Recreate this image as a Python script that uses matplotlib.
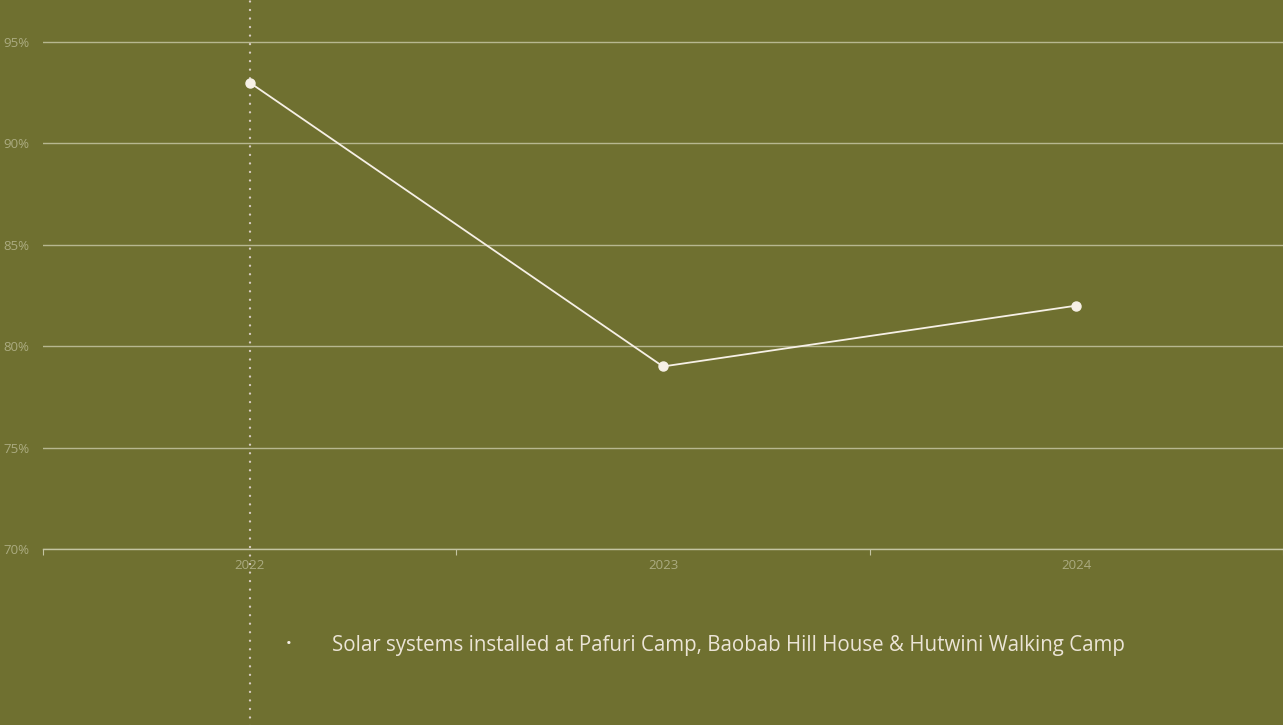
import matplotlib
matplotlib.use("Agg")
import matplotlib.pyplot as plt
from matplotlib.ticker import FixedLocator, NullFormatter

years = ["2022", "2023", "2024"]
share = [93, 79, 82]
y_ticks = [70, 75, 80, 85, 90, 95]
note = "Solar systems installed at Pafuri Camp, Baobab Hill House & Hutwini Walking Camp"

bg = "#6f7030"
cream = "#f6f0e6"
grid_col = "#c4c4a2"
label_col = "#abab80"

plt.rcParams["font.family"] = ["Open Sans", "DejaVu Sans"]

fig = plt.figure(figsize=(12.83, 7.25), dpi=100, facecolor=bg)
ax = fig.add_axes([43 / 1283, 176 / 725, 1 - 43 / 1283, 549 / 725])
ax.set_facecolor(bg)

x = list(range(len(years)))
ax.plot(x, share, color=cream, lw=1.3, marker="o", ms=6.5,
        markerfacecolor=cream, markeredgecolor=cream, zorder=4)

ax.set_xlim(-0.5, len(years) - 0.5)
ax.set_ylim(70, 97.07)

ax.set_yticks(y_ticks)
ax.set_yticklabels([f"{v}%" for v in y_ticks])
ax.yaxis.grid(True, color=grid_col, lw=1.0, alpha=0.85)
ax.set_axisbelow(True)

ax.set_xticks(x)
ax.set_xticklabels(years)
ax.xaxis.set_minor_locator(FixedLocator([i - 0.5 for i in range(len(years) + 1)]))
ax.xaxis.set_minor_formatter(NullFormatter())
ax.tick_params(axis="x", which="major", length=0, pad=7, labelsize=9.5, labelcolor=label_col)
ax.tick_params(axis="x", which="minor", length=4, width=0.8, color=grid_col)
ax.tick_params(axis="y", length=0, pad=10, labelsize=9.5, labelcolor=label_col)

for side in ["top", "right", "left"]:
    ax.spines[side].set_visible(False)
ax.spines["bottom"].set_color(grid_col)
ax.spines["bottom"].set_linewidth(1.0)

# dotted marker line through the first year, running down past the axis
ax.axvline(0, ymin=-0.33, ymax=1, clip_on=False, color="#d9cdc4",
           lw=1.7, linestyle=(0, (0.01, 3.6)), dash_capstyle="round", zorder=3)

fig.text(289 / 1283, 1 - 644 / 725, "\u2022", color=cream, fontsize=11,
         ha="center", va="center")
fig.text(332 / 1283, 1 - 645 / 725, note, color="#ebe4d6", fontsize=14.8,
         ha="left", va="center")

fig.savefig("out.png", dpi=100, facecolor=bg)
